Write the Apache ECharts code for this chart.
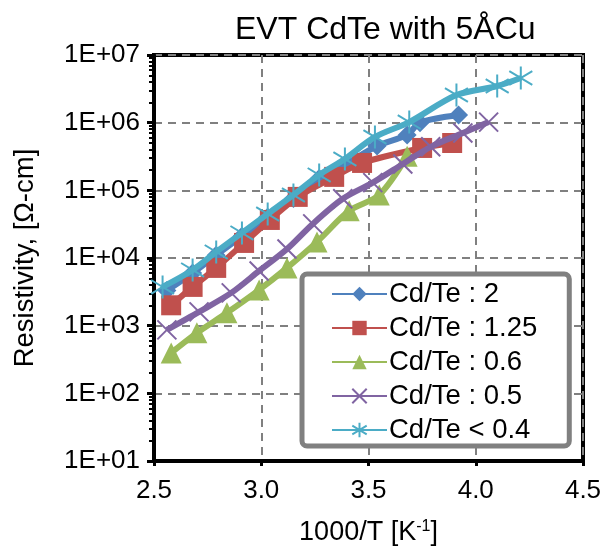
<!DOCTYPE html>
<html><head><meta charset="utf-8">
<script src="https://cdn.jsdelivr.net/npm/echarts@6/dist/echarts.min.js"></script>
<style>html,body{margin:0;padding:0;background:#fff}#c{width:604px;height:550px}</style>
</head><body><div id="c"></div>
<script>
const titleText = 'EVT CdTe with 5ÅCu';
const seriesNames = ['Cd/Te : 2', 'Cd/Te : 1.25', 'Cd/Te : 0.6', 'Cd/Te : 0.5', 'Cd/Te < 0.4'];

const x_cd2 = [2.56, 2.68, 2.79, 2.91, 3.03, 3.15, 3.27, 3.39, 3.54, 3.68, 3.74, 3.92];
const y_cd2 = [3300, 6000, 11000, 21000, 40000, 76000, 150000, 240000, 453000, 660000, 1000000, 1300000];

const x_cd125 = [2.58, 2.68, 2.79, 2.92, 3.04, 3.17, 3.34, 3.47, 3.75, 3.89];
const y_cd125 = [2000, 3740, 7140, 16700, 36500, 80000, 158000, 254000, 423000, 501000];

const x_cd06 = [2.58, 2.70, 2.84, 2.99, 3.12, 3.26, 3.41, 3.55, 3.68];
const y_cd06 = [396, 783, 1550, 3380, 7140, 17300, 50000, 85500, 320000];

const x_cd05 = [2.56, 2.71, 2.86, 2.99, 3.12, 3.24, 3.38, 3.52, 3.66, 3.79, 3.94, 4.06];
const y_cd05 = [867, 1600, 3050, 6440, 13600, 31900, 75000, 130000, 245000, 440000, 705000, 1020000];

const x_cd04 = [2.54, 2.68, 2.79, 2.91, 3.03, 3.15, 3.27, 3.39, 3.53, 3.69, 3.91, 4.10, 4.21];
const y_cd04 = [3740, 6670, 12300, 23500, 44800, 85500, 169000, 291000, 615000, 1020000, 2560000, 3480000, 4570000];

const xTickValues = [2.5, 3.0, 3.5, 4.0, 4.5];
const yTickValues = [1e1, 1e2, 1e3, 1e4, 1e5, 1e6, 1e7];
const yMinorMultipliers = [2, 3, 4, 5, 6, 7, 8, 9];

const colors = ['#4F81BD', '#C0504D', '#9BBB59', '#8064A2', '#4BACC6'];
const FONT = '"Liberation Sans", Arial, sans-serif';

function pairs(xs, ys) { return xs.map((x, i) => [x, ys[i]]); }
const yMinorValues = [];
yTickValues.slice(0, -1).forEach(d => yMinorMultipliers.forEach(m => yMinorValues.push(d * m)));

const symbolDefs = [
  { symbol: 'diamond', size: 19, border: 0 },
  { symbol: 'rect', size: 20, border: 0 },
  { symbol: 'triangle', size: 21, border: 0 },
  { symbol: 'path://M0,0L10,10M10,0L0,10', size: 19, border: 2 },
  { symbol: 'path://M5,0L5,10M0,2L10,8M0,8L10,2', size: 23, border: 2 }
];
const dataSets = [pairs(x_cd2, y_cd2), pairs(x_cd125, y_cd125), pairs(x_cd06, y_cd06), pairs(x_cd05, y_cd05), pairs(x_cd04, y_cd04)];

const chart = echarts.init(document.getElementById('c'), null, { renderer: 'canvas' });
chart.setOption({
  animation: false,
  backgroundColor: '#fff',
  textStyle: { fontFamily: FONT },
  title: {
    text: titleText, left: 230, top: 9,
    textStyle: { fontFamily: FONT, fontSize: 32, fontWeight: 'normal', color: '#000' }
  },
  grid: { left: 154, right: 21, top: 55, bottom: 89, containLabel: false, outerBoundsMode: 'none',
    show: true, borderColor: '#000', borderWidth: 4, backgroundColor: 'transparent' },
  legend: {
    orient: 'vertical', left: 302, top: 274,
    data: seriesNames,
    itemWidth: 55, itemHeight: 18, itemGap: 6,
    padding: [6, 32, 2, 29],
    backgroundColor: '#fff', borderColor: '#808080', borderWidth: 5, borderRadius: 5,
    textStyle: { fontFamily: FONT, fontSize: 27.5, color: '#000', padding: [0, 0, 0, -3] }
  },
  xAxis: {
    type: 'value', min: 2.5, max: 4.5, interval: 0.5,
    name: '{a|1000/T [K}{s|-1}{a|]}', nameLocation: 'middle', nameGap: 58, nameMoveOverlap: false,
    nameTextStyle: { rich: { a: { fontFamily: FONT, fontSize: 27, color: '#000' }, s: { fontFamily: FONT, fontSize: 16, color: '#000', padding: [0, 0, 12, 0] } } },
    axisLine: { show: true, lineStyle: { color: '#000', width: 4 } },
    axisTick: { show: true, length: 5, lineStyle: { color: '#000', width: 3 } },
    axisLabel: { fontFamily: FONT, fontSize: 26, color: '#000', margin: 17, formatter: v => v.toFixed(1), customValues: xTickValues },
    splitLine: { show: true, lineStyle: { color: '#808080', width: 2, type: [8, 6] } }
  },
  yAxis: [{
    type: 'log', logBase: 10, min: 1e1, max: 1e7,
    name: 'Resistivity, [Ω-cm]', nameLocation: 'middle', nameGap: 115, nameMoveOverlap: false,
    nameTextStyle: { fontFamily: FONT, fontSize: 27.5, color: '#000' },
    axisLine: { show: true, lineStyle: { color: '#000', width: 4 } },
    axisTick: { show: true, length: 7, lineStyle: { color: '#000', width: 3 } },
    axisLabel: { fontFamily: FONT, fontSize: 26, color: '#000', margin: 14,
      formatter: v => '1E+' + String(Math.round(Math.log10(v))).padStart(2, '0') },
    splitLine: { show: true, lineStyle: { color: '#808080', width: 2, type: [8, 6] } }
  }, {
    type: 'log', logBase: 10, min: 1e1, max: 1e7, position: 'left',
    axisLine: { show: false },
    axisTick: { show: true, length: 5, customValues: yMinorValues, lineStyle: { color: '#000', width: 2 } },
    axisLabel: { show: false },
    splitLine: { show: false }
  }],
  series: seriesNames.map((name, i) => ({
    name, type: 'line', data: dataSets[i], smooth: 0.3, yAxisIndex: 0,
    symbol: symbolDefs[i].symbol, symbolSize: symbolDefs[i].size, showAllSymbol: true,
    lineStyle: { color: colors[i], width: 6 },
    itemStyle: { color: colors[i], borderColor: colors[i], borderWidth: symbolDefs[i].border },
    z: 2 + i
  }))
});
</script>
</body></html>
